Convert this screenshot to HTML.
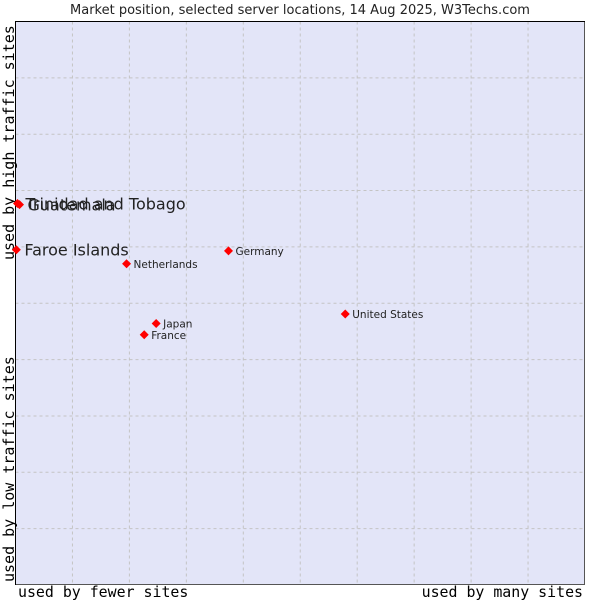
<!DOCTYPE html>
<html><head><meta charset="utf-8"><style>
body{margin:0;background:#fff;width:600px;height:600px;overflow:hidden}
svg{display:block}
</style></head><body>
<svg id="chart" width="600" height="600" font-family="'DejaVu Sans', 'Liberation Sans', sans-serif">
<text x="300" y="14" text-anchor="middle" font-size="13" fill="#222">Market position, selected server locations, 14 Aug 2025, W3Techs.com</text>
<rect x="15.5" y="21.5" width="569" height="563" fill="#e3e5f8" stroke="#555"/>
<g id="grid"></g>
<path d="M15.5 585V21.5H585" fill="none" stroke="#000"/>
<text x="18" y="597" font-family="'DejaVu Sans Mono','Liberation Mono',monospace" font-size="14.9" fill="#000">used by fewer sites</text>
<text x="583" y="597" text-anchor="end" font-family="'DejaVu Sans Mono','Liberation Mono',monospace" font-size="14.9" fill="#000">used by many sites</text>
<text transform="translate(14,260) rotate(-90)" font-family="'DejaVu Sans Mono','Liberation Mono',monospace" font-size="15" fill="#000">used by high traffic sites</text>
<text transform="translate(14,582) rotate(-90)" font-family="'DejaVu Sans Mono','Liberation Mono',monospace" font-size="15" fill="#000">used by low traffic sites</text>
<g id="points"></g>
</svg>
<script>
const names = ["Trinidad and Tobago","Guatemala","Faroe Islands","Netherlands","Germany","United States","Japan","France"];
const xVals = [0.35,0.7,0.15,19.5,37.4,57.9,24.7,22.6];
const yVals = [67.7,67.5,59.5,57.0,59.3,48.1,46.4,44.4];
const bigLabel = [true,true,true,false,false,false,false,false];
const gridCount = 10;

const ns="http://www.w3.org/2000/svg";
const L=15.5,R=585,T=21.5,B=585;
const xs=v=>L+(R-L)*v/100, ys=v=>B-(B-T)*v/100;
const grid=document.getElementById('grid');
for(let i=1;i<gridCount;i++){
  const v=i*100/gridCount;
  const a=document.createElementNS(ns,'line');
  
  
  a.setAttribute('x1',xs(v));a.setAttribute('x2',xs(v));a.setAttribute('y1',T);a.setAttribute('y2',B);
  a.setAttribute('stroke','#c4c4c4');a.setAttribute('stroke-dasharray','3,3');grid.appendChild(a);
  const b=document.createElementNS(ns,'line');
  
  
  b.setAttribute('y1',ys(v));b.setAttribute('y2',ys(v));b.setAttribute('x1',L);b.setAttribute('x2',R);
  b.setAttribute('stroke','#c4c4c4');b.setAttribute('stroke-dasharray','3,3');grid.appendChild(b);
}
const pts=document.getElementById('points');
names.forEach((n,i)=>{
  const x=xs(xVals[i]),y=ys(yVals[i]);
  const d=document.createElementNS(ns,'path');
  
  
  d.setAttribute('d',`M${x} ${y-4.5}L${x+4.5} ${y}L${x} ${y+4.5}L${x-4.5} ${y}Z`);
  d.setAttribute('fill','#f00');pts.appendChild(d);
  const t=document.createElementNS(ns,'text');
  
  
  const big=bigLabel[i];
  t.setAttribute('x',x+(big?8:7));
  t.setAttribute('y',y+(big?6:4));
  t.setAttribute('font-size',big?16:10.5);
  t.setAttribute('fill','#222');
  t.textContent=n;pts.appendChild(t);
});
</script>
</body></html>
